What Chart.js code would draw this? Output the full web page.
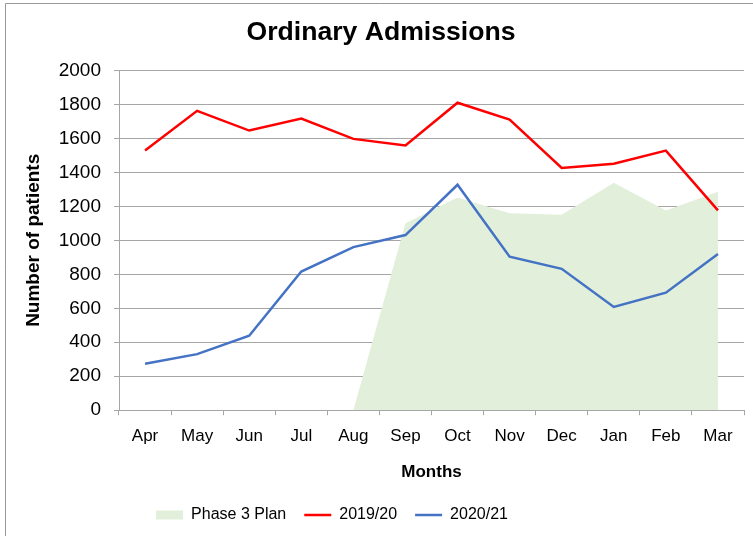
<!DOCTYPE html>
<html>
<head>
<meta charset="utf-8">
<script src="https://cdn.jsdelivr.net/npm/chart.js@4.4.1/dist/chart.umd.min.js"></script>
<style>
  html, body { margin: 0; padding: 0; background: #fff; }
  #wrap { position: relative; width: 753px; height: 536px; }
</style>
</head>
<body>
<div id="wrap"><canvas id="chart" width="753" height="536"></canvas></div>
<script>
// Ordinary admissions - monthly figures
const months = ['Apr', 'May', 'Jun', 'Jul', 'Aug', 'Sep', 'Oct', 'Nov', 'Dec', 'Jan', 'Feb', 'Mar'];
const phase3Plan = [null, null, null, null, 0, 1100, 1252, 1160, 1150, 1339, 1176, 1286];
const admissions1920 = [1528, 1762, 1646, 1717, 1597, 1558, 1810, 1711, 1426, 1451, 1528, 1176];
const admissions2021 = [273, 330, 438, 816, 960, 1031, 1327, 904, 832, 608, 692, 920];

Chart.defaults.font.family = "'Liberation Sans', Arial, sans-serif";
Chart.defaults.color = '#000';

const GREEN = '#E2EFDA';
const RED = '#FF0000';
const BLUE = '#4472C4';
const GRID = '#a6a6a6';

// thin frame at top/left like the exported picture
const framePlugin = {
    id: 'frame',
    afterDraw(chart) {
        const ctx = chart.ctx;
        ctx.save();
        ctx.strokeStyle = '#999';
        ctx.lineWidth = 1;
        ctx.beginPath();
        ctx.moveTo(5.5, chart.height);
        ctx.lineTo(5.5, 3.5);
        ctx.lineTo(chart.width, 3.5);
        ctx.stroke();
        ctx.restore();
    }
};

// the excel export has title a bit right of centre and legend left of it
const nudgePlugin = {
    id: 'nudge',
    afterLayout(chart) {
        chart.titleBlock.left += 9;
        chart.titleBlock.right += 9;
        chart.legend.left -= 40;
        chart.legend.right -= 40;
    }
};

const ctx = document.getElementById('chart').getContext('2d');
new Chart(ctx, {
    type: 'line',
    data: {
        labels: months,
        datasets: [
            {
                label: 'Phase 3 Plan',
                data: phase3Plan,
                fill: 'origin',
                backgroundColor: GREEN,
                borderColor: GREEN,
                borderWidth: 0,
                pointRadius: 0,
                tension: 0
            },
            {
                label: '2019/20',
                data: admissions1920,
                fill: false,
                borderColor: RED,
                borderWidth: 2.5,
                pointRadius: 0,
                tension: 0
            },
            {
                label: '2020/21',
                data: admissions2021,
                fill: false,
                borderColor: BLUE,
                borderWidth: 2.5,
                pointRadius: 0,
                tension: 0
            }
        ]
    },
    options: {
        responsive: false,
        animation: false,
        layout: { padding: { left: 0, right: 9, top: 0, bottom: 3 } },
        plugins: {
            filler: { drawTime: 'beforeDatasetsDraw' },
            tooltip: { enabled: false },
            title: {
                display: true,
                text: 'Ordinary Admissions',
                color: '#000',
                font: { size: 26.6, weight: 'bold' },
                padding: { top: 17, bottom: 21.5 }
            },
            legend: {
                position: 'bottom',
                labels: {
                    color: '#000',
                    font: { size: 16 },
                    usePointStyle: true,
                    pointStyleWidth: 27,
                    boxHeight: 9,
                    padding: 18,
                    generateLabels(chart) {
                        return chart.data.datasets.map((ds, i) => ({
                            text: ds.label,
                            datasetIndex: i,
                            fillStyle: i === 0 ? GREEN : ds.borderColor,
                            strokeStyle: i === 0 ? GREEN : ds.borderColor,
                            lineWidth: i === 0 ? 0 : 2.5,
                            pointStyle: i === 0 ? 'rect' : 'line',
                            fontColor: '#000',
                            hidden: false
                        }));
                    }
                }
            }
        },
        scales: {
            x: {
                offset: true,
                grid: {
                    offset: true,
                    drawOnChartArea: false,
                    color: GRID,
                    tickLength: 5
                },
                border: { color: GRID },
                ticks: { font: { size: 17 }, padding: 11, maxRotation: 0 },
                title: {
                    display: true,
                    text: 'Months',
                    font: { size: 17, weight: 'bold' },
                    padding: { top: 5, bottom: 6 }
                }
            },
            y: {
                min: 0,
                max: 2000,
                afterFit(scale) { scale.width = 119; },
                ticks: {
                    stepSize: 200,
                    font: { size: 19 },
                    padding: 13,
                    callback: v => String(v)
                },
                grid: { color: GRID, tickLength: 5 },
                border: { color: GRID },
                title: {
                    display: true,
                    text: 'Number of patients',
                    font: { size: 19, weight: 'bold' },
                    padding: { top: 22, bottom: 10 }
                }
            }
        }
    },
    plugins: [framePlugin, nudgePlugin]
});
</script>
</body>
</html>
